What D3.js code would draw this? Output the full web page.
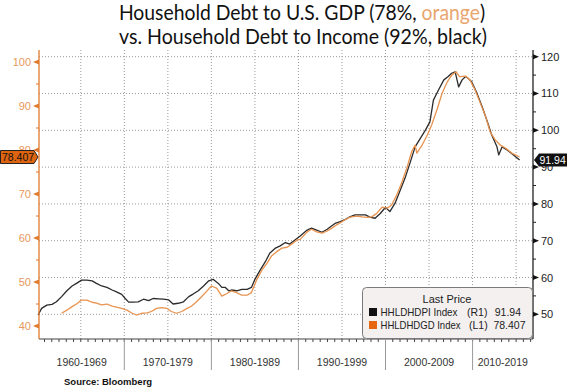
<!DOCTYPE html>
<html><head><meta charset="utf-8">
<script src="https://cdn.jsdelivr.net/npm/d3@7"></script>
<style>body{margin:0;background:#fff}svg{display:block}</style>
</head><body>
<svg id="c" width="567" height="391"></svg>
<script>
// ---- data ----
const blackYears = [1960.1,1960.5,1961.1,1961.7,1962.2,1962.8,1963.4,1964.0,1964.5,1965.1,1965.7,1966.3,1966.8,1967.4,1968.0,1968.6,1969.1,1969.7,1970.1,1970.5,1971.0,1971.6,1972.2,1972.8,1973.3,1973.9,1974.5,1975.1,1975.6,1976.2,1976.8,1977.4,1977.9,1978.5,1979.1,1979.7,1980.2,1980.8,1981.2,1981.6,1982.0,1982.3,1982.9,1983.5,1984.1,1984.6,1985.0,1985.6,1986.2,1986.7,1987.3,1987.9,1988.5,1989.0,1989.6,1990.2,1991.0,1991.5,1992.1,1992.7,1993.3,1993.8,1994.2,1994.8,1995.4,1995.9,1996.5,1997.1,1997.7,1998.2,1998.8,1999.4,2000.0,2000.5,2001.1,2001.7,2002.3,2002.8,2003.4,2004.0,2004.6,2005.1,2005.5,2006.1,2006.7,2007.2,2007.6,2008.0,2008.4,2008.8,2009.2,2009.5,2009.9,2010.5,2011.1,2011.7,2012.2,2012.8,2013.0,2013.4,2014.0,2014.7,2015.4];
const blackValues = [49.8,51.6,52.5,52.7,53.4,54.8,56.4,57.7,58.4,59.3,59.3,59.1,58.4,57.7,57.3,56.6,56.1,55.4,54.3,53.3,53.3,53.4,54.1,53.7,54.3,54.2,54.1,53.9,52.8,53.0,53.4,54.8,55.5,56.4,57.7,59.1,59.5,58.4,57.3,57.3,56.4,56.6,56.4,56.8,56.8,57.3,59.5,62.0,64.3,66.6,67.9,68.6,69.5,69.1,70.2,71.3,72.9,73.4,72.9,72.3,73.1,74.0,74.7,75.2,75.8,76.5,77.0,77.0,77.0,76.4,76.1,77.4,79.1,77.9,80.2,83.8,87.4,91.0,95.5,97.8,100.1,102.3,108.2,111.0,113.7,114.6,115.5,115.9,111.8,113.7,114.6,114.1,113.2,110.1,106.4,102.3,98.7,95.5,93.3,95.5,94.6,93.3,91.94];
const orangeYears = [1962.8,1963.4,1964.0,1964.5,1965.1,1965.7,1966.3,1966.8,1967.4,1968.0,1968.6,1969.1,1969.7,1970.3,1970.9,1971.4,1972.0,1972.6,1973.1,1973.7,1974.3,1974.9,1975.4,1976.0,1976.6,1977.2,1977.7,1978.3,1978.9,1979.5,1980.0,1980.6,1981.2,1981.8,1982.3,1982.9,1983.5,1984.1,1984.6,1985.2,1985.8,1986.4,1986.9,1987.5,1988.1,1988.7,1989.2,1989.8,1990.2,1991.0,1991.5,1992.1,1992.7,1993.3,1993.8,1994.4,1995.0,1995.6,1996.1,1996.7,1997.3,1997.9,1998.4,1999.0,1999.6,2000.2,2000.7,2001.3,2001.9,2002.5,2003.0,2003.4,2003.6,2004.2,2004.8,2005.3,2005.9,2006.5,2007.1,2007.6,2008.1,2008.5,2009.2,2009.7,2010.3,2010.9,2011.5,2012.0,2012.6,2013.2,2013.8,2014.5,2015.4];
const orangeValues = [42.9,43.6,44.4,45.0,45.9,45.9,45.4,45.2,44.8,45.0,44.5,44.3,44.0,43.6,42.9,42.5,42.9,43.0,43.3,44.0,44.2,44.0,43.3,42.9,43.3,44.0,44.5,45.5,46.7,48.0,49.1,48.6,46.8,47.4,48.0,47.6,47.0,47.0,47.6,50.5,52.7,54.3,55.9,56.9,57.7,57.9,58.6,59.5,59.7,61.4,62.0,61.4,61.1,61.6,62.2,63.0,63.7,64.5,64.8,65.0,64.8,64.7,64.8,65.6,67.0,66.8,67.5,69.8,72.8,76.2,79.6,81.1,79.3,81.1,83.4,85.7,89.1,92.9,95.5,97.0,97.8,96.7,96.8,95.9,93.6,90.6,87.6,84.2,82.3,81.1,80.4,79.3,78.407];
const leftTicks = [40,50,60,70,80,90,100];
const leftMinor = [45,55,65,75,85,95];
const rightTicks = [50,60,70,80,90,100,110,120];
const rightMinor = [55,65,75,85,95,105,115];
const gridYears = [1965,1970,1975,1980,1985,1990,1995,2000,2005,2010,2015];
const decadeBounds = [1970,1980,1990,2000,2010];
const decadeLabels = ["1960-1969","1970-1979","1980-1989","1990-1999","2000-2009","2010-2019"];
const lastBlack = 91.94, lastOrange = 78.407;

// ---- layout ----
const svg = d3.select('#c');
const L = 39, R = 533, T = 50, B = 339;
const x = d3.scaleLinear().domain([1960.2, 2016.94]).range([L, R]);
const yL = d3.scaleLinear().domain([37.05, 102.73]).range([B, T]);
const yR = d3.scaleLinear().domain([43.29, 121.82]).range([B, T]);
const ORANGE_LINE = '#E8934F', ORANGE_AXIS = '#E07A2E', ORANGE_TEXT = '#E8985C';
const lf = '"Liberation Sans", Arial, sans-serif';

// title (fitted to the reference width with a horizontal scale)
function titleLine(cx, y, width, parts) {
  const gT = svg.append('g');
  const t = gT.append('text').attr('x', 0).attr('y', 0).attr('text-anchor', 'middle')
    .attr('font-family', 'Lato, "Open Sans", sans-serif').attr('font-size', 20.5).attr('fill', '#111');
  parts.forEach(p => { const s = t.append('tspan').text(p.t); if (p.c) s.attr('fill', p.c); });
  const w = t.node().getComputedTextLength();
  gT.attr('transform', `translate(${cx},${y}) scale(${width / w},1)`);
}
titleLine(302, 20, 366, [{t:'Household Debt to U.S. GDP (78%, '}, {t:'orange', c:'#E9A56E'}, {t:')'}]);
titleLine(303, 44, 368, [{t:'vs. Household Debt to Income (92%, black)'}]);

// grid
const g = svg.append('g');
g.selectAll('.hg').data(rightTicks).join('line')
  .attr('x1', L).attr('x2', R).attr('y1', d => yR(d)).attr('y2', d => yR(d))
  .attr('stroke', '#9a9a9a').attr('stroke-width', 1).attr('stroke-dasharray', '1,2');
g.selectAll('.vg').data(gridYears).join('line')
  .attr('x1', d => x(d)).attr('x2', d => x(d)).attr('y1', T).attr('y2', B)
  .attr('stroke', '#9a9a9a').attr('stroke-width', 1).attr('stroke-dasharray', '1,2');

// series
const blackData = blackYears.map((d, i) => [d, blackValues[i]]);
const orangeData = orangeYears.map((d, i) => [d, orangeValues[i]]);
svg.append('path').datum(blackData)
  .attr('d', d3.line().x(d => x(d[0])).y(d => yR(d[1])))
  .attr('fill','none').attr('stroke','#2b2b2b').attr('stroke-width',1.3).attr('stroke-linejoin','round');
svg.append('path').datum(orangeData)
  .attr('d', d3.line().x(d => x(d[0])).y(d => yL(d[1])))
  .attr('fill','none').attr('stroke',ORANGE_LINE).attr('stroke-width',1.3).attr('stroke-linejoin','round');

// bottom axis
svg.append('line').attr('x1', L).attr('x2', R).attr('y1', B).attr('y2', B).attr('stroke','#444').attr('stroke-width',1.2);
const minorX = d3.range(1960, 2017, 5/6).filter(v => x(v) >= L && x(v) <= R);
svg.selectAll('.xt').data(minorX).join('line')
  .attr('x1', d => x(d)).attr('x2', d => x(d)).attr('y1', B).attr('y2', B + 3)
  .attr('stroke','#444').attr('stroke-width',1);
svg.selectAll('.sep').data(decadeBounds).join('line')
  .attr('x1', d => x(d)).attr('x2', d => x(d)).attr('y1', B).attr('y2', B + 31)
  .attr('stroke','#9a9a9a').attr('stroke-width',1);
const bounds = [x.domain()[0]].concat(decadeBounds, [x.domain()[1]]);
svg.selectAll('.dl').data(decadeLabels).join('text')
  .attr('x', (d, i) => (x(bounds[i]) + x(bounds[i+1])) / 2).attr('y', 366)
  .attr('text-anchor','middle').attr('font-family', lf)
  .attr('font-size', 10.5).attr('fill','#333').text(d => d);

// left axis
svg.append('line').attr('x1', L).attr('x2', L).attr('y1', T).attr('y2', B).attr('stroke', ORANGE_AXIS).attr('stroke-width',1.3);
svg.selectAll('.lt').data(leftTicks).join('path')
  .attr('d', d => `M${L},${yL(d)-2.5}L${L},${yL(d)+2.5}L${L-6},${yL(d)}Z`).attr('fill', ORANGE_AXIS);
svg.selectAll('.lm').data(leftMinor).join('line')
  .attr('x1', L - 3).attr('x2', L).attr('y1', d => yL(d)).attr('y2', d => yL(d)).attr('stroke', ORANGE_AXIS);
svg.selectAll('.ll').data(leftTicks).join('text')
  .attr('x', 31).attr('y', d => yL(d) + 4).attr('text-anchor','end')
  .attr('font-family', lf).attr('font-size', 11).attr('fill', ORANGE_TEXT).text(d => d);

// right axis
svg.append('line').attr('x1', R).attr('x2', R).attr('y1', T).attr('y2', B).attr('stroke', '#222').attr('stroke-width',1.3);
svg.selectAll('.rt').data(rightTicks).join('path')
  .attr('d', d => `M${R},${yR(d)-2.5}L${R},${yR(d)+2.5}L${R+6},${yR(d)}Z`).attr('fill', '#111');
svg.selectAll('.rm').data(rightMinor).join('line')
  .attr('x1', R).attr('x2', R + 3).attr('y1', d => yR(d)).attr('y2', d => yR(d)).attr('stroke', '#222');
svg.selectAll('.rl').data(rightTicks).join('text')
  .attr('x', 541).attr('y', d => yR(d) + 4)
  .attr('font-family', lf).attr('font-size', 11).attr('fill', '#222').text(d => d);

// last value tags
const ly = yL(lastOrange);
svg.append('path').attr('d', `M0.5,${ly-6.5}L34,${ly-6.5}L38,${ly}L34,${ly+6.5}L0.5,${ly+6.5}Z`)
  .attr('fill', '#DE640F').attr('stroke', '#222').attr('stroke-width', 1);
svg.append('text').attr('x', 2).attr('y', ly + 4).attr('font-family', lf)
  .attr('font-size', 10.5).attr('fill', '#111').text(lastOrange.toFixed(3));
const ry = yR(lastBlack);
svg.append('path').attr('d', `M${R+1},${ry}L${R+6},${ry-6.5}L567,${ry-6.5}L567,${ry+6.5}L${R+6},${ry+6.5}Z`)
  .attr('fill', '#111');
svg.append('text').attr('x', 539.5).attr('y', ry + 4).attr('font-family', lf)
  .attr('font-size', 10.5).attr('fill', '#fff').text(lastBlack.toFixed(2));

// legend
const lg = svg.append('g');
lg.append('rect').attr('x', 362.5).attr('y', 287.5).attr('width', 170).attr('height', 51).attr('rx', 4)
  .attr('fill', '#F4F0F0').attr('stroke', '#7a7a7a').attr('stroke-width', 1);
lg.append('text').attr('x', 447).attr('y', 303).attr('text-anchor','middle').attr('font-family', lf)
  .attr('font-size', 11).attr('fill','#222').text('Last Price');
const rows = [
  {c:'#111', name:'HHLDHDPI Index', nw:77, ax:'(R1)', v:'91.94', y:316, vx:521, ax0:467},
  {c:'#E8650F', name:'HHLDHDGD Index', nw:80, ax:'(L1)', v:'78.407', y:329, vx:525.5, ax0:469}
];
rows.forEach(r => {
  lg.append('rect').attr('x', 369).attr('y', r.y - 8).attr('width', 8).attr('height', 8).attr('fill', r.c);
  lg.append('text').attr('x', 380.5).attr('y', r.y).attr('font-family', lf).attr('font-size', 10.5).attr('fill','#222')
    .attr('textLength', r.nw).attr('lengthAdjust', 'spacingAndGlyphs').text(r.name);
  lg.append('text').attr('x', r.ax0).attr('y', r.y).attr('font-family', lf).attr('font-size', 10.5).attr('fill','#222').text(r.ax);
  lg.append('text').attr('x', r.vx).attr('y', r.y).attr('text-anchor','end').attr('font-family', lf).attr('font-size', 10.5).attr('fill','#222').text(r.v);
});

// source
svg.append('text').attr('x', 64).attr('y', 385).attr('font-family', lf).attr('font-weight','bold')
  .attr('font-size', 9.5).attr('fill','#111').text('Source: Bloomberg');
</script>
</body></html>
